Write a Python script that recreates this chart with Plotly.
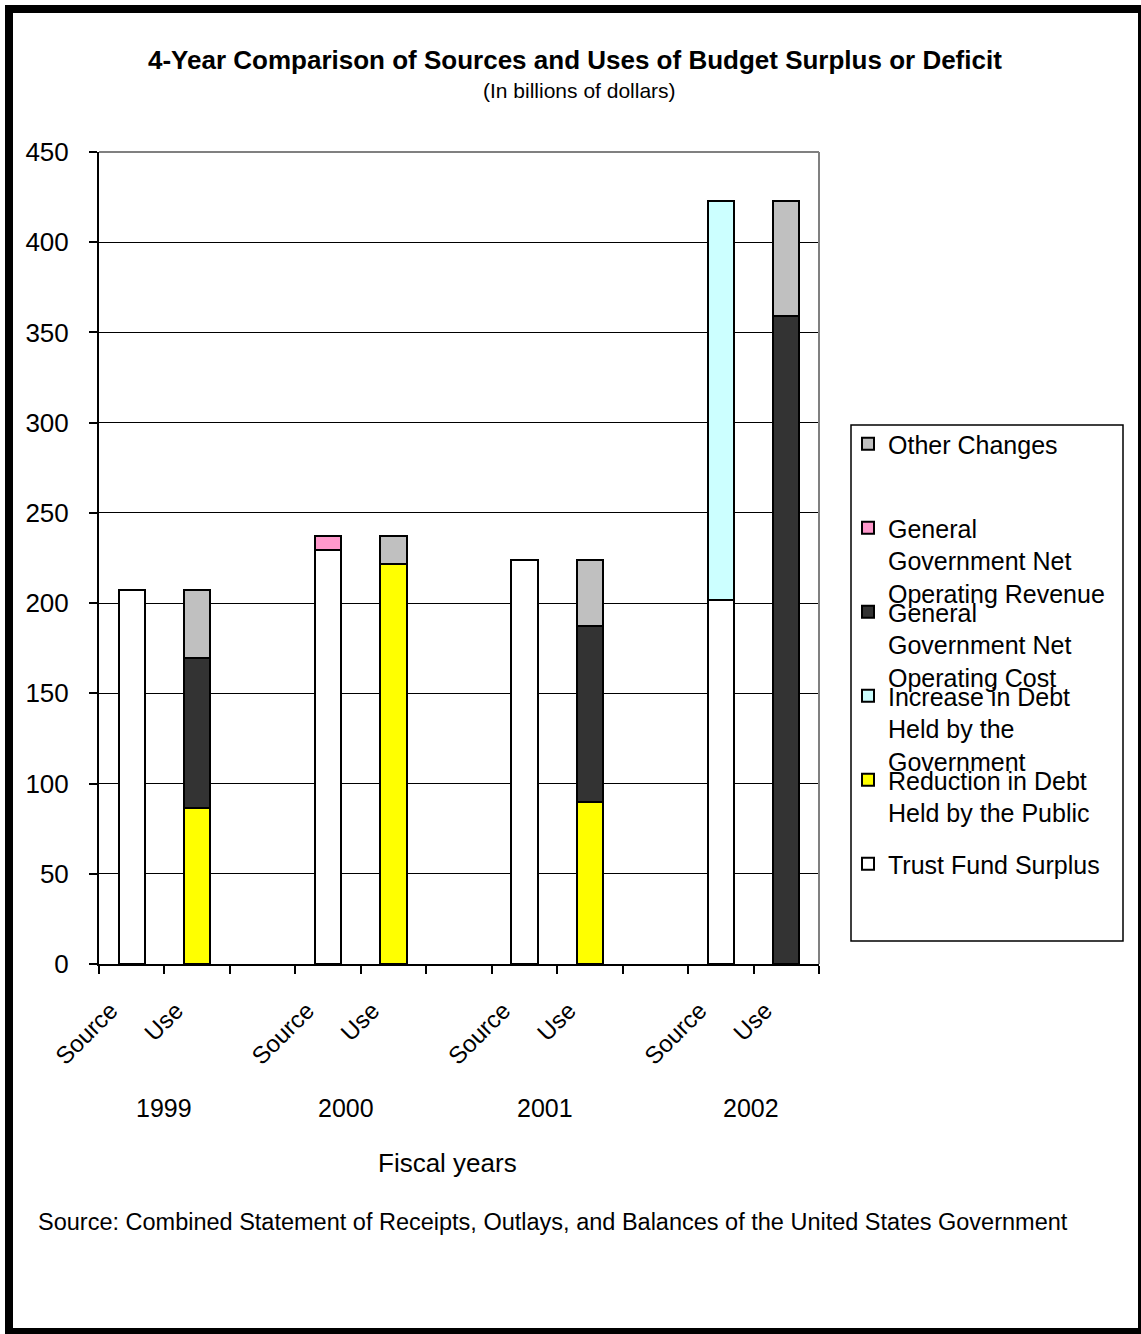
import plotly.graph_objects as go

# Budget surplus / deficit sources and uses, billions of dollars
years = ["1999", "2000", "2001", "2002"]
bar_kinds = ["Source", "Use"]

# Sources
trust_fund_surplus = [207.0, 229.5, 223.8, 201.8]
net_operating_revenue = [None, 7.9, None, None]
increase_debt_government = [None, None, None, 220.8]

# Uses
reduction_debt_public = [86.3, 221.9, 89.8, None]
net_operating_cost = [83.2, None, 97.6, 359.2]
other_changes = [37.5, 15.5, 36.4, 63.4]

# Category slots: Source, Use, spacer for each year
categories = []
tick_text = []
for i, yr in enumerate(years):
    categories += [f"{yr} {bar_kinds[0]}", f"{yr} {bar_kinds[1]}"]
    tick_text += bar_kinds
    if i < len(years) - 1:
        categories.append(" " * (i + 1))
        tick_text.append("")

source_x = [f"{yr} {bar_kinds[0]}" for yr in years]
use_x = [f"{yr} {bar_kinds[1]}" for yr in years]

W, H = 1141, 1334
L, R, T, B = 99, 819, 152, 964  # plot area in pixels
FONT = "Liberation Sans, Arial, sans-serif"


def px(x):
    return (x - L) / (R - L)


def py(y):
    return (B - y) / (B - T)


series = [
    ("Trust Fund Surplus", source_x, trust_fund_surplus, "#FFFFFF", "Trust Fund Surplus", 865),
    ("Reduction in Debt Held by the Public", use_x, reduction_debt_public, "#FFFF00",
     "Reduction in Debt<br>Held by the Public", 781),
    ("Increase in Debt Held by the Government", source_x, increase_debt_government, "#CCFFFF",
     "Increase in Debt<br>Held by the<br>Government", 697),
    ("General Government Net Operating Cost", use_x, net_operating_cost, "#333333",
     "General<br>Government Net<br>Operating Cost", 613),
    ("General Government Net Operating Revenue", source_x, net_operating_revenue, "#FF99CC",
     "General<br>Government Net<br>Operating Revenue", 529),
    ("Other Changes", use_x, other_changes, "#C0C0C0", "Other Changes", 445),
]

fig = go.Figure()
legends = {}
for k, (name, xs, vals, color, label, ly) in enumerate(series):
    lname = "legend" if k == 0 else f"legend{k + 1}"
    fig.add_trace(go.Bar(
        name=label, x=xs, y=vals,
        marker=dict(color=color, line=dict(color="#000000", width=2)),
        legend=lname,
        hovertext=name,
    ))
    legends[lname] = dict(
        x=px(848), y=py(ly - 24), xanchor="left", yanchor="top",
        bgcolor="rgba(0,0,0,0)", borderwidth=0, valign="top",
        font=dict(family=FONT, size=25, color="#000000"),
    )

fig.update_layout(
    width=W, height=H,
    margin=dict(l=L, r=W - R, t=T, b=H - B, pad=0),
    paper_bgcolor="#FFFFFF", plot_bgcolor="#FFFFFF",
    barmode="stack", bargap=0.6,
    showlegend=True,
    font=dict(family=FONT, color="#000000"),
    **legends,
)

fig.update_xaxes(
    type="category", categoryorder="array", categoryarray=categories,
    tickmode="array", tickvals=categories, ticktext=tick_text,
    tickson="boundaries", ticks="outside", ticklen=8, tickwidth=2, tickcolor="#000000",
    tickangle=-45, tickfont=dict(family=FONT, size=24),
    ticklabelshift=-21, ticklabelstandoff=21,
    showline=True, linecolor="#000000", linewidth=2,
    showgrid=False, zeroline=False, range=[-0.5, len(categories) - 0.5],
)
fig.update_yaxes(
    range=[0, 450], dtick=50, tick0=0,
    ticks="outside", ticklen=8, tickwidth=2, tickcolor="#000000",
    tickfont=dict(family=FONT, size=26), ticklabelstandoff=15,
    showline=True, linecolor="#000000", linewidth=2,
    showgrid=True, gridcolor="#000000", gridwidth=1, zeroline=False,
)

# Plot-area border (top and right) in grey
fig.add_shape(type="line", xref="paper", yref="paper", x0=0, x1=1, y0=1, y1=1,
              line=dict(color="#808080", width=2), layer="above")
fig.add_shape(type="line", xref="paper", yref="paper", x0=1, x1=1, y0=0, y1=1,
              line=dict(color="#808080", width=2), layer="above")
# Legend box
fig.add_shape(type="rect", xref="paper", yref="paper",
              x0=px(851), x1=px(1123), y0=py(425), y1=py(941),
              line=dict(color="#000000", width=1.5), fillcolor="rgba(0,0,0,0)")
# Chart frame
fig.add_shape(type="rect", xref="paper", yref="paper",
              x0=px(9), x1=px(1142), y0=py(9), y1=py(1332),
              line=dict(color="#000000", width=8), fillcolor="rgba(0,0,0,0)")

annotations = [
    dict(text="<b>4-Year Comparison of Sources and Uses of Budget Surplus or Deficit</b>",
         x=px(575), y=py(60), font=dict(size=26)),
    dict(text="(In billions of dollars)", x=px(579), y=py(91), font=dict(size=21)),
    dict(text="Fiscal years", x=px(447), y=py(1163), font=dict(size=26)),
    dict(text="Source: Combined Statement of Receipts, Outlays, and Balances of the United States Government",
         x=px(36), y=py(1222), xanchor="left", font=dict(size=23.5)),
]
year_pos = [164, 346, 545, 751]
for yr, xp in zip(years, year_pos):
    annotations.append(dict(text=yr, x=px(xp), y=py(1108), font=dict(size=25)))

for a in annotations:
    a.setdefault("xanchor", "center")
    a.update(xref="paper", yref="paper", yanchor="middle", showarrow=False)
    a["font"] = dict(family=FONT, color="#000000", **a["font"])
fig.update_layout(annotations=annotations)

fig.write_html("out.html")
